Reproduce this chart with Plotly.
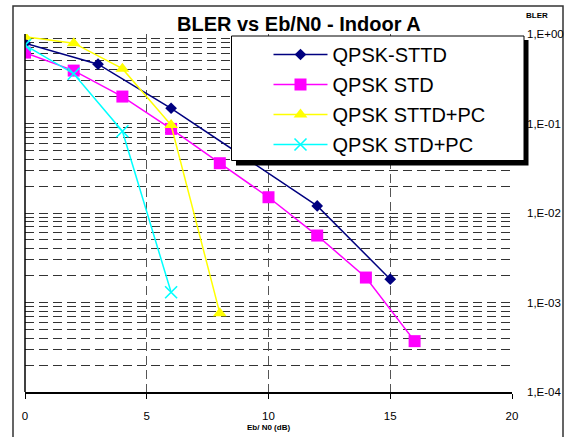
import plotly.graph_objects as go

# Eb/N0 (dB) and measured BLER for each scheme
x_sttd = [0, 3, 6, 12, 15]
y_sttd = [0.79, 0.46, 0.148, 0.012, 0.00182]

x_std = [0, 2, 4, 6, 8, 10, 12, 14, 16]
y_std = [0.62, 0.39, 0.20, 0.087, 0.036, 0.015, 0.0056, 0.0019, 0.00037]

x_sttd_pc = [0, 2, 4, 6, 8]
y_sttd_pc = [0.93, 0.79, 0.41, 0.096, 0.00076]

x_std_pc = [0, 2, 4, 6]
y_std_pc = [0.75, 0.36, 0.082, 0.0013]

y_major = [1, 0.1, 0.01, 0.001, 0.0001]
y_major_text = ["1,E+00", "1,E-01", "1,E-02", "1,E-03", "1,E-04"]
y_minor = [m * 10.0 ** e for e in range(-4, 0) for m in range(2, 10)]
x_ticks = [0, 5, 10, 15, 20]

FONT = "Liberation Sans, Arial, sans-serif"

# figure geometry (pixels)
W, H = 569, 437
ML, MR, MT, MB = 25, 57, 34, 45
PW, PH = W - ML - MR, H - MT - MB


def px_x(p):
    return (p - ML) / PW


def px_y(p):
    return (H - MB - p) / PH


fig = go.Figure()

series = [
    ("QPSK-STTD", x_sttd, y_sttd, "#000080", dict(symbol="diamond", size=9)),
    ("QPSK STD", x_std, y_std, "#FF00FF", dict(symbol="square", size=12)),
    ("QPSK STTD+PC", x_sttd_pc, y_sttd_pc, "#FFFF00", dict(symbol="triangle-up", size=12)),
    ("QPSK STD+PC", x_std_pc, y_std_pc, "#00FFFF", dict(symbol="x-thin", size=12)),
]
for name, xs, ys, color, mk in series:
    marker = dict(color=color, **mk)
    if mk["symbol"] == "x-thin":
        marker["line"] = dict(color=color, width=1.6)
    else:
        marker["line"] = dict(width=0)
    fig.add_trace(go.Scatter(
        x=xs, y=ys, name=name, mode="lines+markers",
        line=dict(color=color, width=1.5), marker=marker,
        legendgroup=name,
    ))

shapes = [
    # outer chart frame
    dict(type="rect", xref="paper", yref="paper",
         x0=px_x(13), x1=px_x(563), y0=px_y(445), y1=px_y(6),
         line=dict(color="#333333", width=1.5), layer="below"),
    # left plot edge
    dict(type="line", xref="paper", yref="paper", x0=0, x1=0, y0=0, y1=1,
         line=dict(color="#000000", width=1.5), layer="above"),
    # legend shadow and box
    dict(type="rect", xref="paper", yref="paper",
         x0=px_x(236), x1=px_x(528.5), y0=px_y(165.5), y1=px_y(40),
         fillcolor="#000000", line=dict(width=0), layer="above"),
    dict(type="rect", xref="paper", yref="paper",
         x0=px_x(231.5), x1=px_x(524), y0=px_y(160.5), y1=px_y(36),
         fillcolor="#FFFFFF", line=dict(color="#000000", width=1), layer="above"),
]

annotations = [
    dict(text="<b>BLER vs Eb/N0 - Indoor A</b>", xref="paper", yref="paper",
         x=px_x(299), y=px_y(24), xanchor="center", yanchor="middle",
         showarrow=False, font=dict(family=FONT, size=20, color="#000000")),
    dict(text="<b>BLER</b>", xref="paper", yref="paper",
         x=px_x(536.5), y=px_y(15.5), xanchor="center", yanchor="middle",
         showarrow=False, font=dict(family=FONT, size=8, color="#000000")),
    dict(text="<b>Eb/ N0 (dB)</b>", xref="paper", yref="paper",
         x=px_x(268), y=px_y(427), xanchor="center", yanchor="middle",
         showarrow=False, font=dict(family=FONT, size=8, color="#000000")),
]

fig.update_layout(
    width=W, height=H,
    margin=dict(l=ML, r=MR, t=MT, b=MB, pad=0, autoexpand=False),
    paper_bgcolor="#FFFFFF", plot_bgcolor="#FFFFFF",
    font=dict(family=FONT, color="#000000"),
    showlegend=True,
    legend=dict(
        x=px_x(268.5), y=px_y(35), xanchor="left", yanchor="top",
        bgcolor="rgba(0,0,0,0)", borderwidth=0,
        font=dict(family=FONT, size=20, color="#000000"),
        itemwidth=54, tracegroupgap=1, itemclick=False,
    ),
    shapes=shapes,
    annotations=annotations,
)

fig.update_xaxes(
    range=[0, 20], tickvals=x_ticks, ticks="outside", ticklen=5,
    tickcolor="#000000", showline=True, linecolor="#000000", linewidth=2,
    showgrid=True, gridcolor="#555555", gridwidth=1, griddash="9px,5px",
    zeroline=False, tickfont=dict(family=FONT, size=11.5, color="#000000"),
    ticklabelstandoff=7, automargin=False,
)

fig.update_yaxes(
    type="log", range=[-4, 0], side="right",
    tickvals=y_major, ticktext=y_major_text, ticks="",
    showline=False, zeroline=False,
    showgrid=True, gridcolor="#333333", gridwidth=1, griddash="9px,5px",
    minor=dict(tickvals=y_minor, showgrid=True, gridcolor="#333333",
               gridwidth=1, griddash="9px,5px", ticks=""),
    tickfont=dict(family=FONT, size=11.5, color="#000000"),
    ticklabelstandoff=14, automargin=False,
)

fig.write_html("out.html")
